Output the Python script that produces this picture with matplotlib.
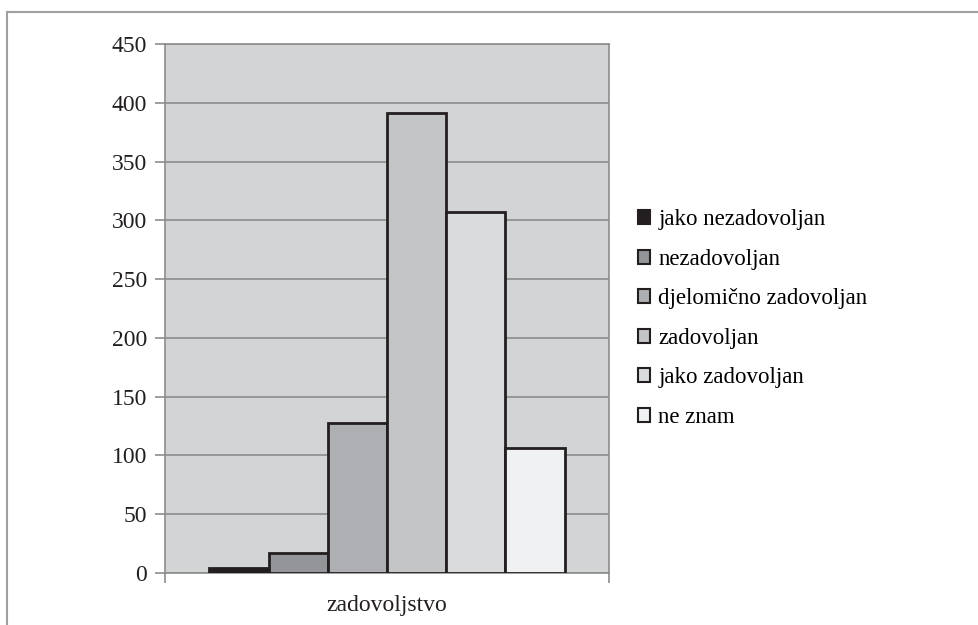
import matplotlib.pyplot as plt
from matplotlib.patches import Patch
from matplotlib.lines import Line2D

# categories and counts
kategorije = ['jako nezadovoljan', 'nezadovoljan', 'djelomično zadovoljan',
              'zadovoljan', 'jako zadovoljan', 'ne znam']
vrijednosti = [4, 17, 128, 391, 307, 106]
grupa = 'zadovoljstvo'
y_ticks = [0, 50, 100, 150, 200, 250, 300, 350, 400, 450]

boje = ['#231f20', '#939598', '#aeafb2', '#c4c5c7', '#dadbdd', '#f0f1f2']
rub = '#231f20'

plt.rcParams['font.family'] = ['Liberation Serif', 'DejaVu Serif']

fig = plt.figure(figsize=(9.79, 6.25), dpi=100)
ax = fig.add_axes([0.1685, 0.0832, 0.4535, 0.8464])
ax.set_facecolor('#d3d4d6')

n = len(vrijednosti)
sirina = 0.8 / n
for i, (v, c) in enumerate(zip(vrijednosti, boje)):
    x = -0.4 + sirina * (i + 0.5)
    ax.bar(x, v, width=sirina, color=c, edgecolor=rub, linewidth=2, zorder=3)

ax.set_xlim(-0.5, 0.5)
ax.set_ylim(0, 450)
ax.set_yticks(y_ticks)
ax.set_yticklabels([str(t) for t in y_ticks], fontsize=17, color='#231f20')
ax.yaxis.grid(True, color='#8c8c8c', linewidth=1.2, zorder=1)
ax.set_axisbelow(True)

ax.set_xticks([-0.5, 0.5])
ax.set_xticklabels(['', ''])
ax.set_xticks([0], minor=True)
ax.set_xticklabels([grupa], minor=True, fontsize=17, color='#231f20')
ax.tick_params(axis='x', which='minor', length=0, pad=16)
ax.tick_params(axis='both', which='major', length=7, width=1.2, color='#8c8c8c')
ax.tick_params(axis='y', pad=6)

for s in ax.spines.values():
    s.set_color('#8c8c8c')
    s.set_linewidth(1.2)

handles = [Patch(facecolor=c, edgecolor=rub, linewidth=1.5) for c in boje]
fig.legend(handles, kategorije, loc='upper left', bbox_to_anchor=(0.642, 0.680),
           frameon=False, fontsize=16.5, handlelength=0.55, handleheight=0.55,
           handletextpad=0.35, labelspacing=0.81, borderaxespad=0)

# outer chart border (cropped on right and bottom)
fig.add_artist(Line2D([0.0072, 0.0072], [0, 0.981], color='#a0a0a0', linewidth=1.5))
fig.add_artist(Line2D([0.0072, 1], [0.981, 0.981], color='#a0a0a0', linewidth=1.5))

fig.savefig('out.png', dpi=100)
